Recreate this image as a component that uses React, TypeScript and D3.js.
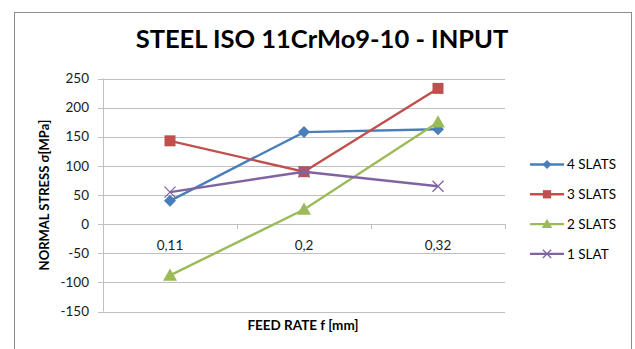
import React from "react";
import * as d3 from "d3";

const categories = ["0,11", "0,2", "0,32"];
const seriesNames = ["4 SLATS", "3 SLATS", "2 SLATS", "1 SLAT"];
const slats4 = [40, 158, 163];
const slats3 = [143, 90, 233];
const slats2 = [-88, 25, 175];
const slat1 = [55, 90, 65];
const yTicks = [250, 200, 150, 100, 50, 0, -50, -100, -150];

const colors = ["#4A7EBB", "#C0504D", "#9BBB59", "#8064A2"];
const markers = ["diamond", "square", "triangle", "cross"];

const W = 635;
const H = 349;
const FONT = "Lato, 'Open Sans', sans-serif";
const LABEL_SIZE = 13.5;

function Marker({ kind, x, y, color, s = 1 }: { kind: string; x: number; y: number; color: string; s?: number }) {
  if (kind === "diamond") {
    const r = 6 * s;
    return <path d={`M${x},${y - r}L${x + r},${y}L${x},${y + r}L${x - r},${y}Z`} fill={color} />;
  }
  if (kind === "square") {
    const r = 5.5 * s;
    return <rect x={x - r} y={y - r} width={2 * r} height={2 * r} fill={color} />;
  }
  if (kind === "triangle") {
    const r = 7 * s;
    return <path d={`M${x},${y - r}L${x + r},${y + r * 0.75}L${x - r},${y + r * 0.75}Z`} fill={color} />;
  }
  const r = 5.5 * s;
  return (
    <path
      d={`M${x - r},${y - r}L${x + r},${y + r}M${x - r},${y + r}L${x + r},${y - r}`}
      stroke={color}
      strokeWidth={1.3}
      fill="none"
    />
  );
}

export default function App() {
  const series = [slats4, slats3, slats2, slat1];
  const plotL = 103;
  const plotR = 505;
  const y = d3.scaleLinear().domain([-150, 250]).range([311.5, 78.5]);
  const x = d3.scaleBand<string>().domain(categories).range([plotL, plotR]);
  const cx = (c: string) => (x(c) ?? 0) + x.bandwidth() / 2;
  const line = d3
    .line<number>()
    .x((_, i) => cx(categories[i]))
    .y((v) => y(v));

  return (
    <svg
      width={W}
      height={H}
      style={{ position: "absolute", left: 0, top: 0, display: "block", background: "#fff" }}
      fontFamily={FONT}
    >
      <rect x={14.5} y={12.5} width={617} height={345} fill="#fff" stroke="#8c8c8c" strokeWidth={1} />
      <text x={322} y={48} textAnchor="middle" fontSize={25.5} fontWeight="bold" fill="#000">
        STEEL ISO 11CrMo9-10 - INPUT
      </text>

      {/* grid */}
      {yTicks.map((t) => (
        <line key={t} x1={plotL} x2={plotR} y1={Math.round(y(t)) + 0.5} y2={Math.round(y(t)) + 0.5} stroke="#bfbfbf" strokeWidth={1} />
      ))}
      {/* y axis */}
      <line x1={plotL + 0.5} x2={plotL + 0.5} y1={y(250)} y2={y(-150)} stroke="#bfbfbf" />
      {yTicks.map((t) => (
        <g key={"yt" + t}>
          <line x1={plotL - 5} x2={plotL} y1={Math.round(y(t)) + 0.5} y2={Math.round(y(t)) + 0.5} stroke="#bfbfbf" />
          <text x={89} y={y(t)} dy="0.35em" textAnchor="end" fontSize={LABEL_SIZE} fill="#1a1a1a">
            {t}
          </text>
        </g>
      ))}
      {/* category ticks on the zero line */}
      {[plotL, ...categories.map((c) => (x(c) ?? 0) + x.bandwidth())].map((px, i) => (
        <line key={"xt" + i} x1={Math.round(px) + 0.5} x2={Math.round(px) + 0.5} y1={y(0)} y2={y(0) + 5} stroke="#bfbfbf" />
      ))}
      {categories.map((c) => (
        <text key={c} x={cx(c)} y={y(0) + 26} textAnchor="middle" fontSize={LABEL_SIZE} fill="#1a1a1a">
          {c}
        </text>
      ))}

      {/* series */}
      {series.map((vals, si) => (
        <g key={seriesNames[si]}>
          <path d={line(vals) ?? ""} fill="none" stroke={colors[si]} strokeWidth={2.4} />
          {vals.map((v, i) => (
            <Marker key={i} kind={markers[si]} x={cx(categories[i])} y={y(v)} color={colors[si]} />
          ))}
        </g>
      ))}

      {/* axis titles */}
      <text
        transform={`translate(49,${195}) rotate(-90)`}
        textAnchor="middle"
        fontSize={13}
        fontWeight="bold"
        fill="#000"
      >
        NORMAL STRESS σ[MPa]
      </text>
      <text x={303} y={330} textAnchor="middle" fontSize={13.5} fontWeight="bold" fill="#000">
        FEED RATE f [mm]
      </text>

      {/* legend */}
      {seriesNames.map((n, i) => {
        const ly = 164.5 + i * 29.8;
        return (
          <g key={"lg" + n}>
            <line x1={530} x2={564} y1={ly} y2={ly} stroke={colors[i]} strokeWidth={2.4} />
            <Marker kind={markers[i]} x={547} y={ly} color={colors[i]} s={0.75} />
            <text x={567} y={ly} dy="0.35em" fontSize={LABEL_SIZE} fill="#000">
              {n}
            </text>
          </g>
        );
      })}
    </svg>
  );
}
